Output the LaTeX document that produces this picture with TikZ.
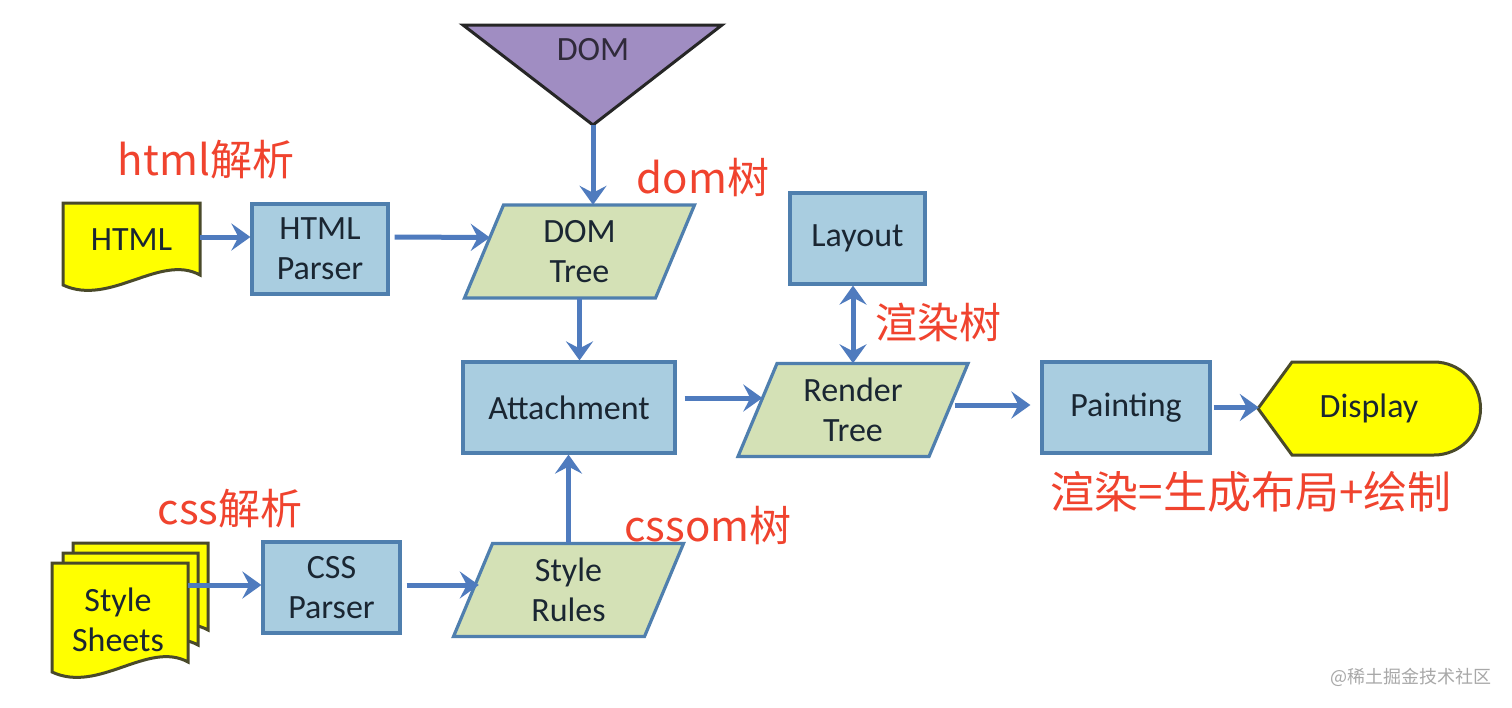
\documentclass[tikz,border=0pt]{standalone}
\usepackage{fontspec}
\newfontfamily\carlito{Carlito}
\newfontfamily\cjk{Noto Sans CJK SC}
\usetikzlibrary{arrows.meta,calc}
\definecolor{boxfill}{HTML}{A9CDE0}
\definecolor{boxline}{HTML}{4F7FAE}
\definecolor{boxtext}{HTML}{1A2632}
\definecolor{parafill}{HTML}{D4E1B6}
\definecolor{docfill}{HTML}{FFFF00}
\definecolor{docline}{HTML}{4A4A2A}
\definecolor{domfill}{HTML}{A08DC2}
\definecolor{arrowblue}{HTML}{4F7BBE}
\definecolor{redlabel}{HTML}{F0432E}
\definecolor{wm}{HTML}{A8A8A8}
\tikzset{
  boxtxt/.style={text=boxtext,font=\carlito\fontsize{34}{40}\selectfont,align=center},
  procbox/.style={boxtxt,draw=boxline,fill=boxfill,line width=3.2pt,inner sep=0pt},
  para/.style={draw=boxline,fill=parafill,line width=3.2pt,line join=miter},
  ptext/.style={boxtxt,inner sep=0pt,minimum width=191pt,minimum height=93pt},
  doc/.style={draw=docline,fill=docfill,line width=3pt},
  arr/.style={draw=arrowblue,line width=5pt,-{Stealth[length=19pt,width=27pt,inset=7pt]}},
  dblarr/.style={draw=arrowblue,line width=5pt,{Stealth[length=19pt,width=27pt,inset=7pt]}-{Stealth[length=19pt,width=27pt,inset=7pt]}},
  redtxt/.style={text=redlabel,font=\cjk\fontsize{42}{48}\selectfont,inner sep=0pt},
}
\newcommand{\parallelo}[4]{%
  \draw[para] (#2-115,#3+46.5) -- (#2+76,#3+46.5) -- (#2+115,#3-46.5) -- (#2-76,#3-46.5) -- cycle;
  \node[ptext] (#1) at (#2,#3) {#4};}
\newcommand{\docshape}[4]{%
  \draw[doc] (#1,#2) -- (#3,#2) -- (#3,#4) .. controls (#3-40,#4-22) and (#1+47,#4+32) .. (#1,#4+10) -- cycle;}
\begin{document}
\begin{tikzpicture}[x=1pt,y=-1pt]
\useasboundingbox[fill=white] (0,0) rectangle (1512,707);

% DOM triangle
\draw[fill=domfill,draw=black!85,line width=3pt,line join=miter] (463,25) -- (722,25) -- (593,125) -- cycle;
\node[boxtxt,text=black!70!domfill] (dom) at (593,50) {DOM};
\coordinate (domapex) at (593,125);

% HTML document
\docshape{63}{203}{200}{275}
\node[boxtxt,inner sep=0pt,minimum width=137pt,minimum height=70pt] (html) at (131.5,240) {HTML};

% process boxes
\node[procbox,minimum width=136pt,minimum height=90pt] (hp) at (320,249) {HTML\\Parser};
\node[procbox,minimum width=135pt,minimum height=91pt] (layout) at (857.5,238.5) {Layout};
\node[procbox,minimum width=212pt,minimum height=91pt] (att) at (569,407.5) {Attachment};
\node[procbox,minimum width=168pt,minimum height=91pt] (paint) at (1126,407.5) {Painting};
\node[procbox,minimum width=137pt,minimum height=91pt] (cssp) at (331.5,587.5) {CSS\\Parser};

% parallelograms
\parallelo{dt}{579.5}{251.5}{DOM\\Tree}
\parallelo{rt}{853}{410}{Render\\Tree}
\parallelo{sr}{568.5}{590}{Style\\Rules}

% Display
\draw[fill=docfill,draw=docline,line width=3pt,line join=miter] (1258,408.5) -- (1292,362) -- (1434,362)
  .. controls (1459.7,362) and (1480.5,382.8) .. (1480.5,408.5)
  .. controls (1480.5,434.2) and (1459.7,455) .. (1434,455) -- (1292,455) -- cycle;
\node[boxtxt,inner sep=0pt,minimum width=220pt,minimum height=93pt] (disp) at (1369,408.5) {Display};

% Style sheets
\docshape{73}{543}{208}{630}
\docshape{63}{553}{198}{645}
\docshape{52}{563}{188}{662}
\node[boxtxt,inner sep=0pt,minimum width=136pt,minimum height=80pt] (ss) at (120,585) {};
\node[boxtxt] (sstext) at (118,620) {Style\\Sheets};

% connectors
\draw[arr] ([yshift=3pt]html.east) -- ([yshift=3pt]html.east -| hp.west);
\draw[arr] ([xshift=5pt,yshift=12pt]hp.east) -- ([xshift=6pt,yshift=14pt]dt.west);
\draw[arr] (domapex) -- ([xshift=13.5pt]dt.north);
\draw[arr] (dt.south) -- (dt.south |- att.north);
\draw[arr] (sr.north) -- (sr.north |- att.south);
\draw[arr] ([xshift=8pt,yshift=9.5pt]att.east) -- ([xshift=5pt,yshift=12pt]rt.west);
\draw[dblarr] (rt.north |- layout.south) -- (rt.north);
\draw[arr] ([xshift=6pt,yshift=5pt]rt.east) -- ([xshift=-10pt,yshift=2.5pt]paint.west);
\draw[arr] ([xshift=2pt]paint.east) -- (paint.east -| disp.west);
\draw[arr] (ss.east) -- (ss.east -| cssp.west);
\draw[arr] ([xshift=5pt,yshift=2.5pt]cssp.east) -- ([xshift=6pt,yshift=5pt]sr.west);

% red labels
\node[redtxt] (l1) at (206,160) {html解析};
\node[redtxt] (l2) at (703,178) {dom树};
\node[redtxt] (l3) at (938,322) {渲染树};
\node[redtxt] (l4) at (230,509) {css解析};
\node[redtxt] (l5) at (708,526) {cssom树};
\node[redtxt,font=\cjk\fontsize{44}{48}\selectfont] (l6) at (1251,492) {渲染=生成布局+绘制};

% watermark
\node[text=wm,font=\cjk\fontsize{18}{20}\selectfont,inner sep=0pt] (wmk) at (1411,677) {@稀土掘金技术社区};
\end{tikzpicture}
\end{document}
